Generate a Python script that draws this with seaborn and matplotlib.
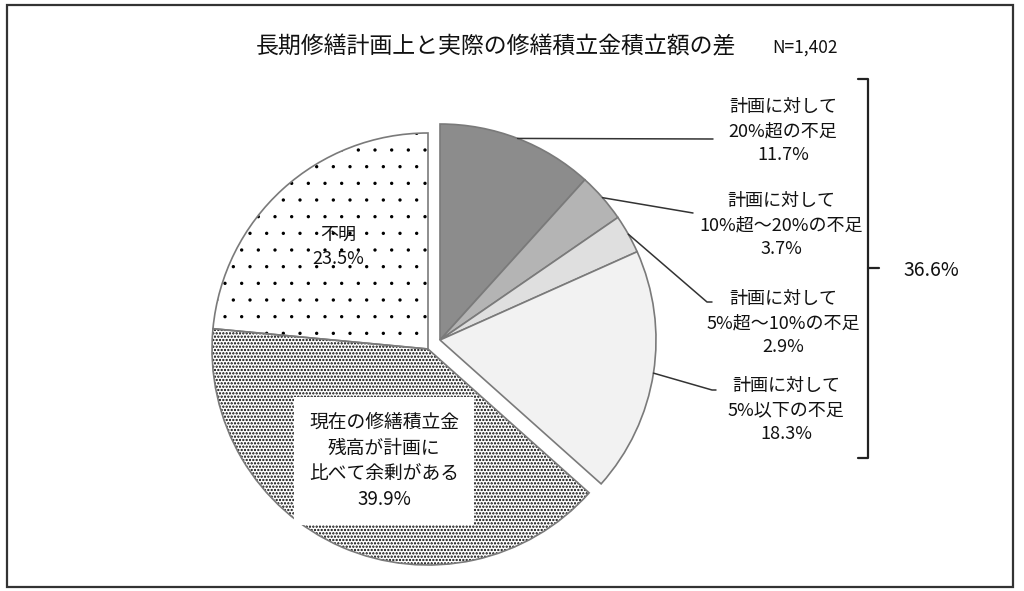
import matplotlib
matplotlib.use("Agg")
import numpy as np
import matplotlib.pyplot as plt
from matplotlib.patches import Rectangle
import seaborn as sns

# Data
labels = ["計画に対して\n20%超の不足", "計画に対して\n10%超～20%の不足",
          "計画に対して\n5%超～10%の不足", "計画に対して\n5%以下の不足",
          "現在の修繕積立金\n残高が計画に\n比べて余剰がある", "不明"]
shares = [11.7, 3.7, 2.9, 18.3, 39.9, 23.5]
shortfall = [True, True, True, True, False, False]
fills = ["#8c8c8c", "#b4b4b4", "#dfdfdf", "#f2f2f2", "white", "white"]
hatches = [None, None, None, None, ".....", "."]
hatch_lw = [0, 0, 0, 0, 1.1, 0.0]
title = "長期修繕計画上と実際の修繕積立金積立額の差"
n_label = "N=1,402"

sns.set_theme(style="white")
plt.rcParams["font.family"] = ["Noto Sans CJK JP", "DejaVu Sans"]

W, H = 1024, 591
fig = plt.figure(figsize=(W / 100, H / 100), dpi=100)
ax = fig.add_axes([0, 0, 1, 1])


def py(y):
    # pixel row (top-down) to data y
    return H - y


R = 216
main_c = (428, py(349))
group_c = (440, py(340))
edge = "#7a7a7a"

# main pie: hatched fills (black hatch, no outline), one pass per hatch weight
for j, (h, lw) in enumerate(zip(hatches, hatch_lw)):
    if shortfall[j]:
        continue
    with plt.rc_context({"hatch.linewidth": lw}):
        w_fill, _ = ax.pie(shares, startangle=90, counterclock=False, radius=R, center=main_c,
                           colors=fills, wedgeprops=dict(edgecolor="black", linewidth=0))
    for i, w in enumerate(w_fill):
        w.set_visible(i == j)
        if i == j and h:
            w.set_hatch(h)

# main pie outlines
w_line, _ = ax.pie(shares, startangle=90, counterclock=False, radius=R, center=main_c,
                   colors=["none"] * len(shares), wedgeprops=dict(edgecolor=edge, linewidth=1.2))
for w, s in zip(w_line, shortfall):
    w.set_visible(not s)

# shortfall group, pulled out together
w_grp, _ = ax.pie(shares, startangle=90, counterclock=False, radius=R, center=group_c,
                  colors=fills, wedgeprops=dict(edgecolor=edge, linewidth=1.2))
for w, s in zip(w_grp, shortfall):
    w.set_visible(s)

ax.set_xlim(0, W)
ax.set_ylim(0, H)
ax.set_aspect("equal")
ax.axis("off")

# labels for the shortfall wedges with leader lines
text_pos = [(783, 131), (781, 225), (783, 323), (786, 410)]
line_end = [[(713, 139)], [(693, 213)], [(707, 302), (712, 302)], [(712, 390), (716, 390)]]
k = 0
for i, w in enumerate(w_grp):
    if not shortfall[i]:
        continue
    ang = np.deg2rad((w.theta1 + w.theta2) / 2)
    x0 = group_c[0] + R * np.cos(ang)
    y0 = group_c[1] + R * np.sin(ang)
    xs = [x0] + [p[0] for p in line_end[k]]
    ys = [y0] + [py(p[1]) for p in line_end[k]]
    ax.plot(xs, ys, color="#333333", lw=1.1)
    tx, ty = text_pos[k]
    ax.text(tx, py(ty), f"{labels[i]}\n{shares[i]:.1f}%", ha="center", va="center",
            fontsize=13, linespacing=1.4, color="#111111")
    k += 1

# labels inside the other wedges
ax.text(338, py(247), f"{labels[5]}\n{shares[5]:.1f}%", ha="center", va="center",
        fontsize=13, linespacing=1.4, color="#111111")
ax.text(384, py(461), f"{labels[4]}\n{shares[4]:.1f}%", ha="center", va="center",
        fontsize=13.5, linespacing=1.3, color="#111111",
        bbox=dict(boxstyle="square,pad=0.8", facecolor="white", edgecolor="none"))

# bracket summing the shortfall
total = sum(s for s, f in zip(shares, shortfall) if f)
ax.plot([858, 868, 868, 858], [py(79), py(79), py(458), py(458)], color="#222222", lw=1.6)
ax.plot([868, 879], [py(268), py(268)], color="#222222", lw=1.6)
ax.text(931, py(271), f"{total:.1f}%", ha="center", va="center", fontsize=14, color="#111111")

# title
ax.text(496, py(47), title, ha="center", va="center", fontsize=16.5, color="#111111")
ax.text(805, py(48), n_label, ha="center", va="center", fontsize=12.5, color="#111111")

# frame around the figure
fig.patches.append(Rectangle((7 / W, 4 / H), (1013 - 7) / W, (587 - 5) / H,
                             transform=fig.transFigure, fill=False,
                             edgecolor="#333333", linewidth=1.6))

fig.savefig("out.png", dpi=100, facecolor="white")
